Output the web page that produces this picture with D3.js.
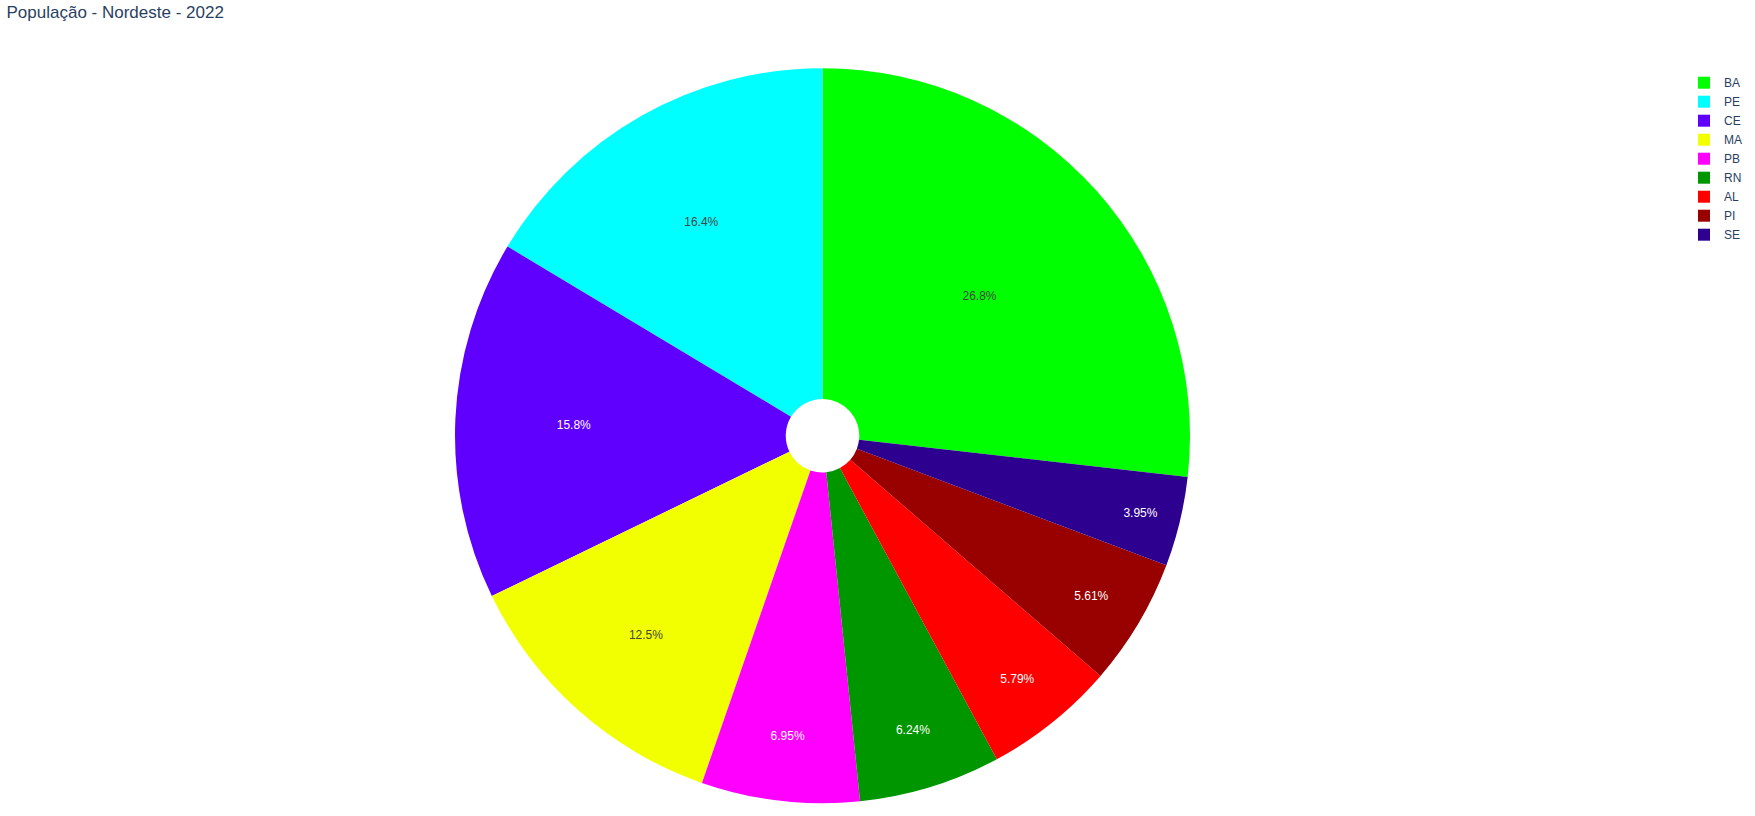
<!DOCTYPE html>
<html>
<head>
<meta charset="utf-8">
<script src="https://cdn.jsdelivr.net/npm/d3@7"></script>
<style>
  html, body { margin: 0; padding: 0; background: #fff; }
  svg { display: block; }
</style>
</head>
<body>
<div id="chart"></div>
<script>
// ---- data ----
const titleText = "População - Nordeste - 2022";
const states = ["BA", "PE", "CE", "MA", "PB", "RN", "AL", "PI", "SE"];
const shares = [26.8, 16.4, 15.8, 12.5, 6.95, 6.24, 5.79, 5.61, 3.95];
const colors = ["#00ff00", "#00ffff", "#5f00ff", "#f2ff00", "#ff00ff", "#009600", "#ff0000", "#990000", "#2e0090"];

// ---- layout ----
const W = 1755, H = 816;
const cx = 822.5, cy = 435.7, R = 367.5, holeFrac = 0.1;
const font = '"Liberation Sans", Arial, sans-serif';

const svg = d3.select("#chart").append("svg")
  .attr("width", W).attr("height", H)
  .style("font-family", font);

const data = states.map((s, i) => ({ state: s, value: shares[i], color: colors[i] }));
const total = d3.sum(shares);

// Plotly-style: direction counterclockwise, first slice ending at 12 o'clock
const firstAngle = (shares[0] / total) * 2 * Math.PI;
const pie = d3.pie().sort(null).value(d => d.value)
  .startAngle(firstAngle).endAngle(firstAngle - 2 * Math.PI);
const arcs = pie(data);

const arc = d3.arc().innerRadius(R * holeFrac).outerRadius(R);

const g = svg.append("g").attr("transform", `translate(${cx},${cy})`);
g.selectAll("path.slice").data(arcs).enter().append("path")
  .attr("class", "slice")
  .attr("d", arc)
  .attr("fill", d => d.data.color);

// inside labels positioned like Plotly (inscribed-circle rule)
const ring = 1 - holeFrac;
const fmt = d3.format(".3r");
function isLight(c) {
  const rgb = d3.rgb(c);
  return (rgb.r * 299 + rgb.g * 587 + rgb.b * 114) / 1000 >= 128;
}
g.selectAll("text.lbl").data(arcs).enter().append("text")
  .attr("class", "lbl")
  .each(function (d) {
    const half = Math.abs(d.endAngle - d.startAngle) / 2;
    const rIns = Math.min(1 / (1 + 1 / Math.sin(half)), ring / 2);
    const rc = R * (1 - rIns);
    const mid = (d.startAngle + d.endAngle) / 2;
    d3.select(this)
      .attr("x", rc * Math.sin(mid))
      .attr("y", -rc * Math.cos(mid))
      .attr("dy", "0.36em");
  })
  .attr("text-anchor", "middle")
  .attr("font-size", 12)
  .attr("fill", d => isLight(d.data.color) ? "#444" : "#fff")
  .text(d => fmt(d.data.value / total * 100) + "%");

// title
svg.append("text")
  .attr("x", 6.5).attr("y", 18.3)
  .attr("font-size", 17)
  .attr("fill", "#2a3f5f")
  .text(titleText);

// legend
const legend = svg.append("g").attr("transform", "translate(1684,82.7)");
const items = legend.selectAll("g.item").data(data).enter().append("g")
  .attr("class", "item")
  .attr("transform", (d, i) => `translate(0,${i * 19})`);
items.append("rect")
  .attr("x", 14).attr("y", -6).attr("width", 12).attr("height", 12)
  .attr("fill", d => d.color);
items.append("text")
  .attr("x", 40).attr("y", 4.2)
  .attr("font-size", 12)
  .attr("fill", "#2a3f5f")
  .text(d => d.state);
</script>
</body>
</html>
